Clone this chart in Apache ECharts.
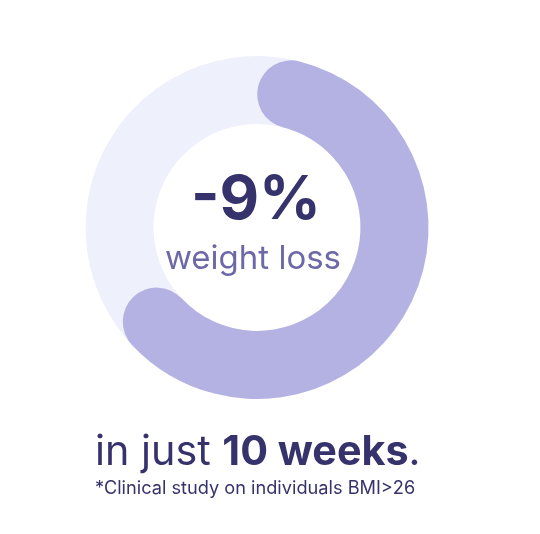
<!DOCTYPE html>
<html>
<head>
<meta charset="utf-8">
<script src="https://cdn.jsdelivr.net/npm/echarts@6/dist/echarts.min.js"></script>
<style>
html,body{margin:0;padding:0;background:#fff;}
#chart{width:540px;height:534px;}
</style>
</head>
<body>
<div id="chart"></div>
<script>
const progressValue = [59];
const scaleRange = [0, 100];
const headline = '-9%';
const subline = 'weight loss';
const captionPlain = 'in just ';
const captionBold = '10 weeks';
const footnote = '*Clinical study on individuals BMI>26';

const chart = echarts.init(document.getElementById('chart'), null, {renderer: 'canvas'});
chart.setOption({
  backgroundColor: '#ffffff',
  animation: false,
  series: [{
    type: 'gauge',
    z: 1,
    center: [257, 227.5],
    radius: 171.5,
    startAngle: 75.6,
    endAngle: -284.4,
    min: scaleRange[0],
    max: scaleRange[1],
    axisLine: {lineStyle: {width: 68, color: [[1, '#eef0fc']]}},
    progress: {show: true, width: 68, roundCap: true, itemStyle: {color: '#b3b2e2'}},
    pointer: {show: false},
    axisTick: {show: false},
    splitLine: {show: false},
    axisLabel: {show: false},
    anchor: {show: false},
    title: {show: false},
    detail: {show: false},
    data: [{value: progressValue[0]}]
  }],
  graphic: [
    {type: 'text', z: 100, style: {x: 256, y: 201, text: headline, textAlign: 'center', textVerticalAlign: 'middle', font: 'bold 61px Inter', fill: '#36336c'}},
    {type: 'text', z: 100, style: {x: 253, y: 259, text: subline, textAlign: 'center', textVerticalAlign: 'middle', font: '33px Inter', fill: '#6c69a6'}},
    {type: 'text', z: 100, style: {x: 95, y: 453, text: '{a|' + captionPlain + '}{b|' + captionBold + '}{a|.}', textVerticalAlign: 'middle',
      rich: {a: {font: '41.3px Inter', fill: '#36336c'}, b: {font: 'bold 41.3px Inter', fill: '#36336c'}}}},
    {type: 'text', z: 100, style: {x: 95, y: 489, text: footnote, textVerticalAlign: 'middle', font: '18.2px Inter', fill: '#36336c'}}
  ]
});
</script>
</body>
</html>
